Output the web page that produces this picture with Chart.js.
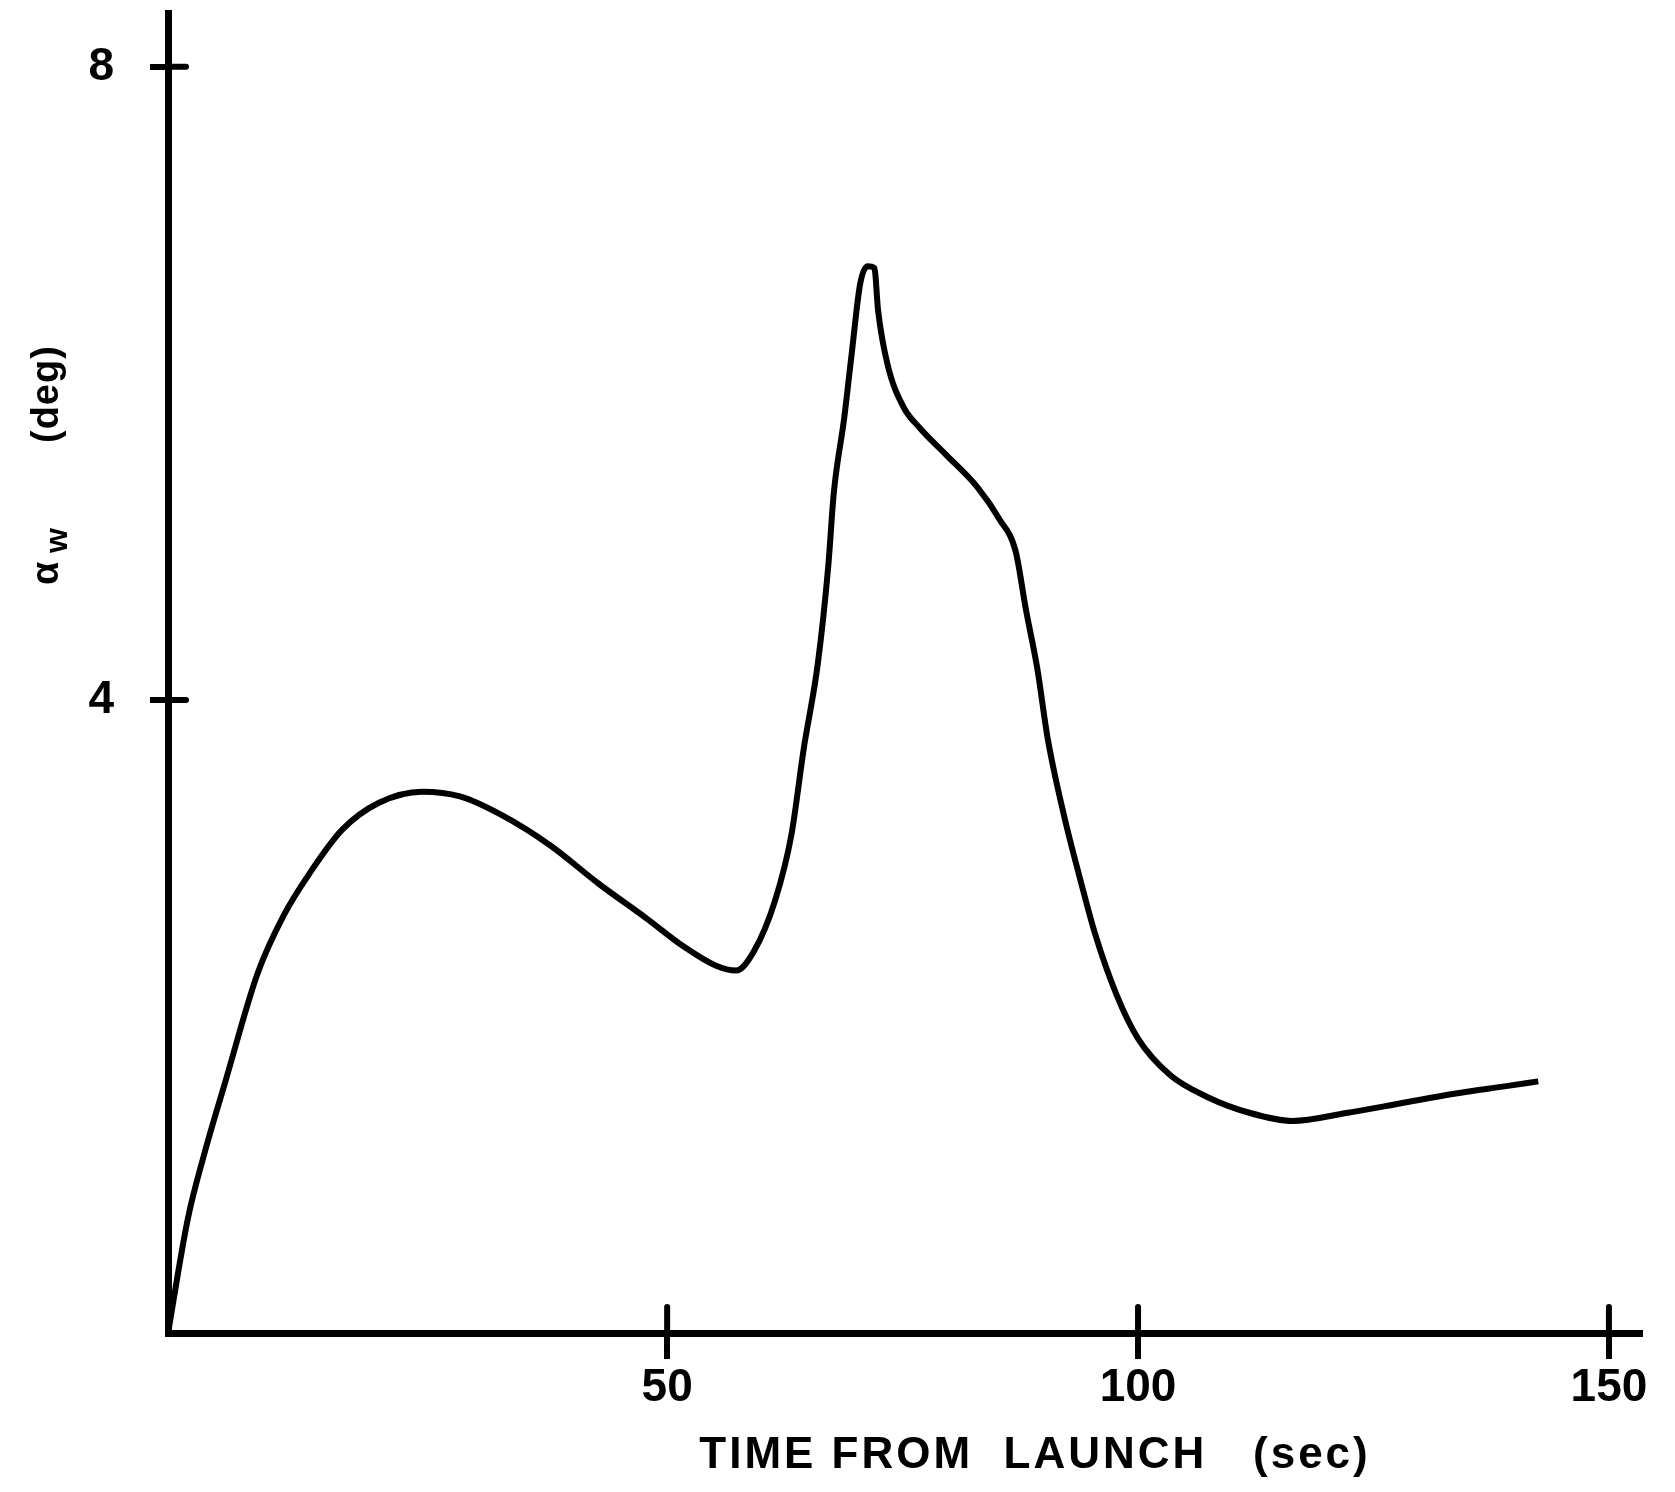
<!DOCTYPE html>
<html lang="en">
<head>
<meta charset="UTF-8">
<title>Alpha w vs time from launch</title>
<script src="https://cdn.jsdelivr.net/npm/chart.js"></script>
<style>
  html, body {
    margin: 0;
    padding: 0;
    background: #fff;
  }
  #wrap {
    width: 1675px;
    height: 1492px;
  }
</style>
</head>
<body>
<div id="wrap">
  <canvas id="alphaChart" width="1675" height="1492"></canvas>
</div>
<script>
// values
const timeSec = [-3, -0.9, 0.8, 3.1, 6.5, 9.3, 12.1, 15.5, 19.4, 24.0, 28.0, 32.5, 37.6, 42.7, 47.8,
  51.8, 55.2, 57.3, 59.2, 61.5, 63.2, 64.5, 66.0, 67.1, 67.7, 68.8, 69.6, 70.5, 71.3, 72.0, 72.4,
  73.4, 75.1, 76.8, 79.6, 83.0, 85.3, 87.0, 88.1, 89.3, 90.4, 92.1, 93.8, 95.5, 97.7, 100.0,
  103.4, 107.4, 111.9, 116.4, 122.1, 127.8, 133.4, 139.1, 142.5];
const alphaW = [0, 0.72, 1.12, 1.59, 2.27, 2.64, 2.91, 3.18, 3.35, 3.42, 3.39, 3.27, 3.08, 2.84, 2.62,
  2.44, 2.32, 2.29, 2.41, 2.74, 3.15, 3.69, 4.23, 4.84, 5.31, 5.78, 6.19, 6.63, 6.74, 6.73, 6.46,
  6.12, 5.85, 5.72, 5.55, 5.34, 5.14, 4.94, 4.57, 4.20, 3.76, 3.28, 2.88, 2.51, 2.14, 1.86,
  1.63, 1.49, 1.39, 1.34, 1.39, 1.45, 1.51, 1.56, 1.59];
const xTicks = [50, 100, 150];
const yTicks = [4, 8];
const xTitle = 'TIME FROM  LAUNCH   (sec)';
const yTitle = ['α', 'w', '(deg)'];

const points = timeSec.map((t, i) => ({ x: t, y: alphaW[i] }));
const font = '"Liberation Sans", Arial, sans-serif';

// tick marks in the original cross the axis line, and the titles sit where they do
const handDrawn = {
  id: 'handDrawn',
  afterDraw(chart) {
    const ctx = chart.ctx;
    const xs = chart.scales.x;
    const ys = chart.scales.y;
    const area = chart.chartArea;
    ctx.save();
    ctx.strokeStyle = '#000';
    ctx.lineWidth = 6;
    ctx.lineCap = 'round';
    xTicks.forEach(v => {
      const px = xs.getPixelForValue(v);
      ctx.beginPath();
      ctx.moveTo(px, area.bottom - 26);
      ctx.lineTo(px, area.bottom);
      ctx.stroke();
    });
    yTicks.forEach(v => {
      const py = ys.getPixelForValue(v);
      ctx.beginPath();
      ctx.moveTo(area.left, py);
      ctx.lineTo(area.left + 18, py);
      ctx.stroke();
    });

    ctx.fillStyle = '#000';
    ctx.font = 'bold 44px ' + font;
    ctx.letterSpacing = '3px';
    ctx.textAlign = 'center';
    ctx.textBaseline = 'middle';
    ctx.fillText(xTitle, 1035, 1456);

    ctx.translate(50, 463);
    ctx.rotate(-Math.PI / 2);
    ctx.letterSpacing = '1px';
    ctx.textAlign = 'left';
    ctx.font = 'bold 38px ' + font;
    ctx.fillText(yTitle[0], -122, -2);
    ctx.font = 'bold 32px ' + font;
    ctx.fillText(yTitle[1], -90, 8);
    ctx.font = 'bold 38px ' + font;
    ctx.fillText(yTitle[2], 20, -2);
    ctx.restore();
  }
};

new Chart(document.getElementById('alphaChart'), {
  type: 'scatter',
  data: {
    datasets: [{
      data: points,
      showLine: true,
      borderColor: '#000',
      borderWidth: 6,
      pointRadius: 0,
      cubicInterpolationMode: 'monotone',
      fill: false
    }]
  },
  options: {
    responsive: false,
    animation: false,
    layout: {
      padding: { top: 13, right: 35, left: 0, bottom: 0 }
    },
    plugins: {
      legend: { display: false },
      tooltip: { enabled: false }
    },
    scales: {
      x: {
        type: 'linear',
        min: -3,
        max: 153.3,
        afterBuildTicks: s => { s.ticks = xTicks.map(v => ({ value: v })); },
        afterFit: s => { s.height = 159; s.paddingLeft = 0; s.paddingRight = 0; },
        border: { display: true, color: '#000', width: 7 },
        grid: {
          drawOnChartArea: false,
          color: '#000',
          lineWidth: 6,
          tickLength: 26
        },
        ticks: {
          color: '#000',
          padding: 2,
          font: { family: font, size: 46, weight: 'bold' }
        }
      },
      y: {
        type: 'linear',
        min: 0,
        max: 8.34,
        afterBuildTicks: s => { s.ticks = yTicks.map(v => ({ value: v })); },
        afterFit: s => { s.width = 168; s.paddingTop = 0; s.paddingBottom = 0; },
        border: { display: true, color: '#000', width: 7 },
        grid: {
          drawOnChartArea: false,
          color: '#000',
          lineWidth: 6,
          tickLength: 18
        },
        ticks: {
          color: '#000',
          padding: 36,
          font: { family: font, size: 46, weight: 'bold' }
        }
      }
    }
  },
  plugins: [handDrawn]
});
</script>
</body>
</html>
